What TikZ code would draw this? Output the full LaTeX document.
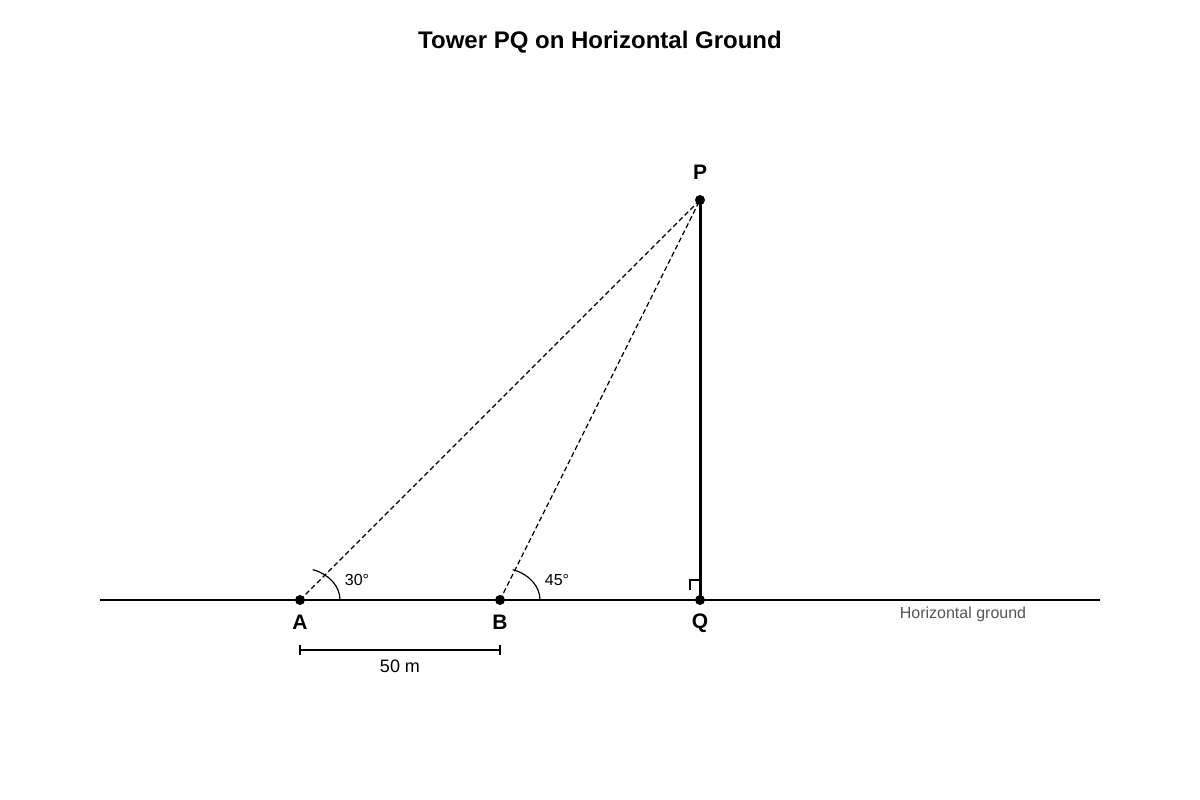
\documentclass[tikz,border=0pt]{standalone}
\usepackage{fontspec}
\setmainfont{Liberation Sans}
\begin{document}
\begin{tikzpicture}[x=1pt,y=-1pt,
  pt/.style={circle,fill=black,inner sep=0pt,minimum size=10pt},
  lab/.style={font=\bfseries\fontsize{21}{25}\selectfont},
  ang/.style={font=\fontsize{16}{19}\selectfont},
  sight/.style={dashed,dash pattern=on 5pt off 3pt,line width=1.2pt},
  ground/.style={line width=2pt},
  tower/.style={line width=3pt}]
\useasboundingbox (0,0) rectangle (1200,800);
\node[font=\bfseries\fontsize{24}{29}\selectfont] (title) at (600,42) {Tower PQ on Horizontal Ground};
\coordinate (gl) at (100,600);
\coordinate (gr) at (1100,600);
\draw[ground] (gl) -- (gr);
\node[pt] (A) at (300,600) {};
\node[pt] (B) at (500,600) {};
\node[pt] (Q) at (700,600) {};
\node[pt] (P) at (700,200) {};
\draw[tower] (Q.center) -- (P.center);
\draw[sight] (A.center) -- (P.center);
\draw[sight] (B.center) -- (P.center);
\draw[line width=1.2pt] (340,600) arc[start angle=0,end angle=71.5,x radius=40,y radius=-32];
\draw[line width=1.2pt] (540,600) arc[start angle=0,end angle=71.5,x radius=40,y radius=-32];
\draw[line width=1.2pt] (690,590) -- (690,580) -- (700,580);
\node[lab] (Pl) at (700,172) {P};
\node[lab] (Al) at (300,622) {A};
\node[lab] (Bl) at (500,622) {B};
\node[lab] (Ql) at (700,623) {Q};
\node[ang] (a30) at (357,580) {30°};
\node[ang] (a45) at (557,580) {45°};
\coordinate (d1) at (300,650);
\coordinate (d2) at (500,650);
\draw[line width=1.2pt] (d1) -- (d2);
\draw[line width=1.2pt] (300,645) -- (300,655);
\draw[line width=1.2pt] (500,645) -- (500,655);
\node[font=\fontsize{18}{21}\selectfont] (dist) at (400,666) {50 m};
\node[font=\fontsize{16}{19}\selectfont,text={rgb,255:red,85;green,85;blue,85}] (hg) at (963,614) {Horizontal ground};
\end{tikzpicture}
\end{document}
